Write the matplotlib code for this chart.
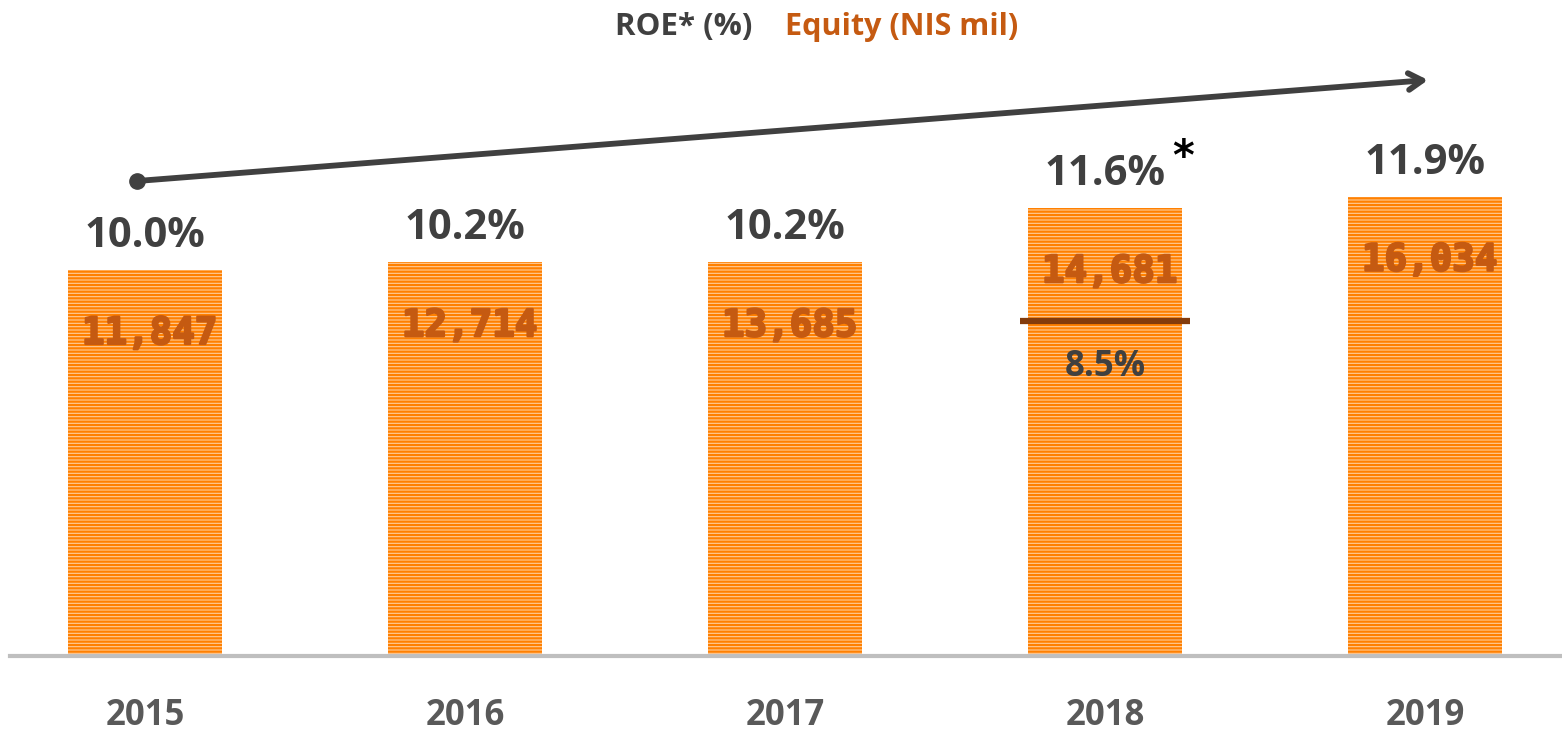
import matplotlib
matplotlib.use("Agg")
import matplotlib.pyplot as plt
import matplotlib.patheffects as pe
from matplotlib.transforms import offset_copy

years = ["2015", "2016", "2017", "2018", "2019"]
roe = [10.0, 10.2, 10.2, 11.6, 11.9]
equity = [11847, 12714, 13685, 14681, 16034]
roe_2018_adjusted = 8.5

DARK = "#404040"
ORANGE_TXT = "#C55A11"
BAR_ORANGE = "#FF8000"
BAR_LIGHT = "#FFCC99"
FONT = "Open Sans"

plt.rcParams["hatch.linewidth"] = 1.6

fig = plt.figure(figsize=(15.62, 7.32), dpi=100)
W, H = 1562, 732
base_px = 656
px_per_unit = 38.6
ax = fig.add_axes([10 / W, (H - base_px) / H, 1552 / W, base_px / H])
ax.set_ylim(0, base_px / px_per_unit)
ax.set_xlim((10 - 145) / 320, (1562 - 145) / 320)
for s in ["top", "right", "left"]:
    ax.spines[s].set_visible(False)
ax.spines["bottom"].set_color("#BFBFBF")
ax.spines["bottom"].set_linewidth(3)
ax.set_yticks([])
x = list(range(len(years)))
ax.set_xticks(x)
ax.set_xticklabels(years, fontsize=25, fontweight="bold", color="#595959", family=FONT)
ax.tick_params(axis="x", length=0, pad=30)

ax.bar(x, roe, width=0.48, color=BAR_LIGHT, edgecolor=BAR_ORANGE, hatch="-----",
       linewidth=0, zorder=2)

# ROE labels above bars
for xi, r in zip(x, roe):
    tr = offset_copy(ax.transData, fig=fig, x=0, y=23, units="dots")
    ax.text(xi, r, f"{r:.1f}%", transform=tr, ha="center", va="baseline",
            fontsize=30, fontweight="bold", color=DARK, family=FONT, zorder=4)

# Equity labels inside bars
for xi, r, e in zip(x, roe, equity):
    tr = offset_copy(ax.transData, fig=fig, x=0, y=-64, units="dots")
    ax.text(xi + 0.015, r, f"{e:,}", transform=tr, ha="center", va="center",
            fontsize=27, fontweight="bold", color=ORANGE_TXT,
            family="DejaVu Sans Mono", zorder=4,
            path_effects=[pe.withStroke(linewidth=1.6, foreground=ORANGE_TXT)])

# 2018 adjusted ROE
i18 = years.index("2018")
ax.plot([i18 - 0.265, i18 + 0.265], [roe_2018_adjusted + 0.18] * 2, color="#843C0C",
        lw=4.5, solid_capstyle="butt", zorder=5)
ax.text(i18, roe_2018_adjusted - 1.0, f"{roe_2018_adjusted:.1f}%", ha="center",
        va="center", fontsize=25, fontweight="bold", color=DARK, family=FONT, zorder=5)
tr = offset_copy(ax.transData, fig=fig, x=78, y=50, units="dots")
ax.text(i18, roe[i18], "*", transform=tr, ha="center", va="center",
        fontsize=30, fontweight="bold", color="black", zorder=5)

# Trend arrow
x0, y0 = -0.025, (base_px - 181) / px_per_unit
x1, y1 = (1428 - 145) / 320, (base_px - 80) / px_per_unit
ax.annotate("", xy=(x1, y1), xytext=(x0, y0),
            arrowprops=dict(arrowstyle="->,head_length=1.0,head_width=0.6",
                            color=DARK, lw=4.2, shrinkA=0, shrinkB=0),
            zorder=6, annotation_clip=False)
ax.plot([x0], [y0], "o", color=DARK, markersize=11, zorder=7, clip_on=False)

# Title legend text
fig.text(684 / W, 1 - 27 / H, "ROE* (%)", ha="center", va="center", fontsize=22.5,
         fontweight="bold", color=DARK, family=FONT)
fig.text(902 / W, 1 - 27 / H, "Equity (NIS mil)", ha="center", va="center",
         fontsize=22, fontweight="bold", color=ORANGE_TXT, family=FONT)

fig.savefig("out.png", dpi=100, facecolor="white")
